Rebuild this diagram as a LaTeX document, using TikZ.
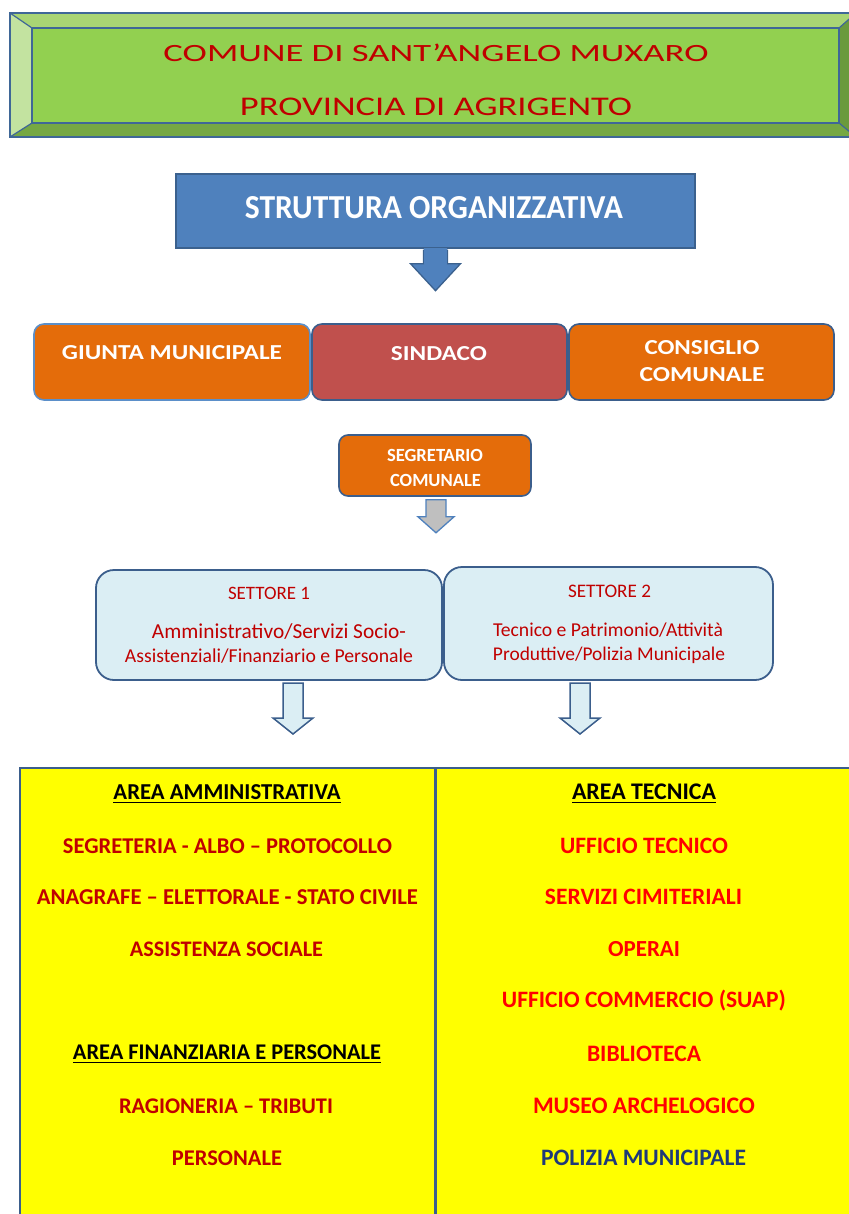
\documentclass[tikz,border=0pt]{standalone}
\usepackage{fontspec}
\setmainfont{Carlito}
\usetikzlibrary{calc}
\definecolor{dred}{HTML}{C00000}
\definecolor{bred}{HTML}{FF0000}
\definecolor{navy}{HTML}{1F3A78}
\definecolor{bord}{HTML}{3B5E8C}
\definecolor{lbord}{HTML}{5B8FC9}
\definecolor{gface}{HTML}{92D050}
\definecolor{gtop}{HTML}{A9D574}
\definecolor{gleft}{HTML}{C3E3A0}
\definecolor{gbot}{HTML}{76A843}
\definecolor{gright}{HTML}{6A9A3C}
\definecolor{sblue}{HTML}{4F81BD}
\definecolor{orng}{HTML}{E46C0A}
\definecolor{sred}{HTML}{C0504D}
\definecolor{lblue}{HTML}{DBEEF4}
\definecolor{gry}{HTML}{BFBFBF}
\definecolor{yel}{HTML}{FFFF00}
\newcommand{\fitw}[2]{\resizebox{#1pt}{!}{#2}}
\newcommand{\fitwh}[3]{\resizebox{#1pt}{#2pt}{#3}}
\tikzset{
  txt/.style={inner sep=0pt, anchor=center},
  obox/.style={draw=bord, line width=1.6pt, rounded corners=10pt, fill=orng},
  setbox/.style={draw=bord, line width=1.8pt, rounded corners=18pt, fill=lblue},
  area/.style={draw=bord, line width=2.5pt, fill=yel},
  blkarrow/.style={line width=1.3pt, line join=miter},
}
\begin{document}
\begin{tikzpicture}[x=1pt,y=-1pt]
\useasboundingbox (0,0) rectangle (848,1214);
% ---- banner
\fill[gface] (32,28) rectangle (839,123);
\fill[gtop] (10,13) -- (856,13) -- (839,28) -- (32,28) -- cycle;
\fill[gleft] (10,13) -- (32,28) -- (32,123) -- (10,137) -- cycle;
\fill[gbot] (10,137) -- (32,123) -- (839,123) -- (856,137) -- cycle;
\fill[gright] (856,13) -- (839,28) -- (839,123) -- (856,137) -- cycle;
\draw[sblue!80!black, line width=1.6pt] (10,13) rectangle (856,137);
\draw[sblue!80!black, line width=1.6pt] (32,28) rectangle (839,123);
\draw[sblue!80!black, line width=1.2pt] (10,13) -- (32,28) (10,137) -- (32,123) (856,13) -- (839,28) (856,137) -- (839,123);
\node[txt, text=dred] (t1) at (436,53) {\fitwh{545}{17.5}{COMUNE DI SANT’ANGELO MUXARO}};
\node[txt, text=dred] (t2) at (436,106.5) {\fitwh{392}{17.5}{PROVINCIA DI AGRIGENTO}};
% ---- struttura
\node[draw=sblue!75!black, line width=1.4pt, fill=sblue, minimum width=519pt, minimum height=74pt, inner sep=0pt] (struct) at (435.5,211) {};
\node[txt, text=white] (structT) at (434,207.5) {\fitwh{378}{22}{\bfseries STRUTTURA ORGANIZZATIVA}};
\coordinate (a1) at ($(struct.south)+(0,1)$);
\draw[blkarrow, draw=sblue!75!black, fill=sblue] ($(a1)+(-12,0)$) -- ++(0,14) -- ++(-13,0) -- ($(a1)+(0,41)$) -- ($(a1)+(25,14)$) -- ++(-13,0) -- ($(a1)+(12,0)$);
\fill[sblue] ($(a1)+(-11.3,-1.5)$) rectangle ($(a1)+(11.3,14)$);
% ---- three boxes
\node[obox, draw=lbord, minimum width=276pt, minimum height=76pt] (giunta) at (172,362) {};
\node[obox, fill=sred, minimum width=255pt, minimum height=76pt] (sindaco) at (439.5,362) {};
\node[obox, minimum width=265pt, minimum height=76pt] (consiglio) at (701.5,362) {};
\node[txt, text=white] (giuntaT) at (172,353) {\fitwh{220}{14}{\bfseries GIUNTA MUNICIPALE}};
\node[txt, text=white] (sindacoT) at (439,353.5) {\fitwh{96}{14}{\bfseries SINDACO}};
\node[txt, text=white] (consT1) at (702,347.5) {\fitwh{115}{14}{\bfseries CONSIGLIO}};
\node[txt, text=white] (consT2) at (702,375) {\fitwh{125}{14}{\bfseries COMUNALE}};
% ---- segretario
\node[obox, rounded corners=9pt, minimum width=192pt, minimum height=61pt] (segr) at (435,465.5) {};
\node[txt, text=white] (segrT1) at (435,455) {\fitw{96}{\bfseries SEGRETARIO}};
\node[txt, text=white] (segrT2) at (435.5,480) {\fitw{91}{\bfseries COMUNALE}};
% ---- settori
\node[setbox, minimum width=346pt, minimum height=110pt] (set1) at (269,625) {};
\node[setbox, minimum width=329pt, minimum height=113pt] (set2) at (608.5,623.5) {};
% gray arrow
\coordinate (g0) at ($(segr.south)+(1,3)$);
\draw[blkarrow, draw=sblue, fill=gry] ($(g0)+(-10,0)$) -- ($(g0)+(10,0)$) -- ($(g0)+(10,17)$) -- ($(g0)+(18,17)$) -- ($(g0)+(0,33)$) -- ($(g0)+(-18,17)$) -- ($(g0)+(-10,17)$) -- cycle;
\node[txt, text=dred] (s1a) at (269,593) {\fitw{82}{SETTORE 1}};
\node[txt, text=dred] (s1b) at (279,632) {\fitw{254}{Amministrativo/Servizi Socio-}};
\node[txt, text=dred] (s1c) at (269,656) {\fitw{288}{Assistenziali/Finanziario e Personale}};
\node[txt, text=dred] (s2a) at (609.5,591) {\fitw{83}{SETTORE 2}};
\node[txt, text=dred] (s2b) at (608,630) {\fitw{230}{Tecnico e Patrimonio/Attività}};
\node[txt, text=dred] (s2c) at (609,655) {\fitw{232}{Produttive/Polizia Municipale}};
% blue arrows
\coordinate (b1) at (293,683);
\coordinate (b2) at (580,683);
\foreach \c in {b1,b2}{
\draw[blkarrow, draw=bord, line width=1.5pt, fill=lblue] ($(\c)+(-10,0)$) -- ($(\c)+(10,0)$) -- ($(\c)+(10,35)$) -- ($(\c)+(20,35)$) -- ($(\c)+(0,51)$) -- ($(\c)+(-20,35)$) -- ($(\c)+(-10,35)$) -- cycle;
}
% ---- areas
\draw[area] (20,768) rectangle (435,1222);
\draw[area] (436,768) rectangle (858,1222);
\node[txt] (aamm) at (227,794) {\fitw{227}{\bfseries\underline{AREA AMMINISTRATIVA}}};
\node[txt, text=dred] (l1) at (227.5,846.5) {\fitw{329}{\bfseries SEGRETERIA - ALBO – PROTOCOLLO}};
\node[txt, text=dred] (l2) at (227.5,897.5) {\fitw{381}{\bfseries ANAGRAFE – ELETTORALE - STATO CIVILE}};
\node[txt, text=dred] (l3) at (226.5,949) {\fitw{193}{\bfseries ASSISTENZA SOCIALE}};
\node[txt] (afin) at (227,1054) {\fitw{308}{\bfseries\underline{AREA FINANZIARIA E PERSONALE}}};
\node[txt, text=dred] (l4) at (226,1106) {\fitw{214}{\bfseries RAGIONERIA – TRIBUTI}};
\node[txt, text=dred] (l5) at (227,1158) {\fitw{110}{\bfseries PERSONALE}};
\node[txt] (atec) at (644,794) {\fitw{144}{\bfseries\underline{AREA TECNICA}}};
\node[txt, text=bred] (r1) at (644,846) {\fitw{168}{\bfseries UFFICIO TECNICO}};
\node[txt, text=bred] (r2) at (643.5,897) {\fitw{197}{\bfseries SERVIZI CIMITERIALI}};
\node[txt, text=bred] (r3) at (644,949) {\fitw{72}{\bfseries OPERAI}};
\node[txt, text=bred] (r4) at (644,1001) {\fitw{284}{\bfseries UFFICIO COMMERCIO (SUAP)}};
\node[txt, text=bred] (r5) at (644,1054) {\fitw{114}{\bfseries BIBLIOTECA}};
\node[txt, text=bred] (r6) at (644,1106) {\fitw{222}{\bfseries MUSEO ARCHELOGICO}};
\node[txt, text=navy] (r7) at (643.5,1158) {\fitw{205}{\bfseries POLIZIA MUNICIPALE}};
\end{tikzpicture}
\end{document}
